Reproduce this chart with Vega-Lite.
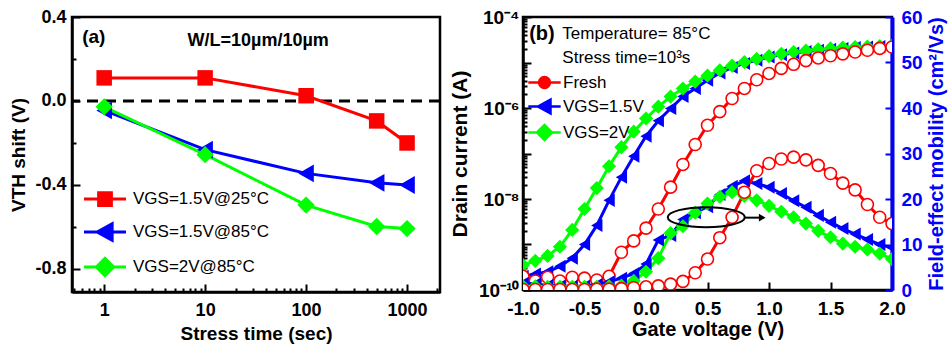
{
  "$schema": "https://vega.github.io/schema/vega-lite/v6.json",
  "background": "white",
  "padding": {"left": 8, "top": 6, "right": 0, "bottom": 0},
  "spacing": 5,
  "config": {
    "font": "Liberation Sans",
    "view": {"stroke": "black", "strokeWidth": 2.5},
    "axis": {"labelFont": "Liberation Sans", "labelFontWeight": "bold", "labelColor": "black", "titleFont": "Liberation Sans", "titleFontWeight": "bold", "titleColor": "black", "domainColor": "black", "domainWidth": 2.5, "tickColor": "black", "tickWidth": 2, "grid": false, "labelOverlap": false, "labelFlush": false},
    "legend": {"labelFont": "Liberation Sans", "labelColor": "black", "labelFontWeight": "normal", "padding": 0, "labelLimit": 300}
  },
  "datasets": {
    "a": [
      {"t": 1, "v": 0.11, "s": "VGS=1.5V@25°C"}, {"t": 10, "v": 0.11, "s": "VGS=1.5V@25°C"}, {"t": 100, "v": 0.025, "s": "VGS=1.5V@25°C"}, {"t": 500, "v": -0.095, "s": "VGS=1.5V@25°C"}, {"t": 1000, "v": -0.2, "s": "VGS=1.5V@25°C"},
      {"t": 1, "v": -0.045, "s": "VGS=1.5V@85°C"}, {"t": 10, "v": -0.232, "s": "VGS=1.5V@85°C"}, {"t": 100, "v": -0.345, "s": "VGS=1.5V@85°C"}, {"t": 500, "v": -0.39, "s": "VGS=1.5V@85°C"}, {"t": 1000, "v": -0.4, "s": "VGS=1.5V@85°C"},
      {"t": 1, "v": -0.028, "s": "VGS=2V@85°C"}, {"t": 10, "v": -0.256, "s": "VGS=2V@85°C"}, {"t": 100, "v": -0.496, "s": "VGS=2V@85°C"}, {"t": 500, "v": -0.598, "s": "VGS=2V@85°C"}, {"t": 1000, "v": -0.608, "s": "VGS=2V@85°C"}
    ],
    "b": [
      {"V": -1, "I": 2.00e-10, "mu": 1.5, "s": "VGS=1.5V"}, {"V": -0.9, "I": 2.24e-10, "mu": 1.3, "s": "VGS=1.5V"}, {"V": -0.8, "I": 2.51e-10, "mu": 1.0, "s": "VGS=1.5V"}, {"V": -0.7, "I": 3.31e-10, "mu": 0.9, "s": "VGS=1.5V"}, {"V": -0.6, "I": 5.01e-10, "mu": 0.8, "s": "VGS=1.5V"}, {"V": -0.5, "I": 1.00e-9, "mu": 0.9, "s": "VGS=1.5V"}, {"V": -0.4, "I": 2.63e-9, "mu": 1.2, "s": "VGS=1.5V"}, {"V": -0.3, "I": 9.33e-9, "mu": 1.8, "s": "VGS=1.5V"}, {"V": -0.2, "I": 3.02e-8, "mu": 2.6, "s": "VGS=1.5V"}, {"V": -0.1, "I": 8.71e-8, "mu": 3.6, "s": "VGS=1.5V"}, {"V": 0, "I": 2.40e-7, "mu": 5.7, "s": "VGS=1.5V"}, {"V": 0.1, "I": 5.25e-7, "mu": 11.0, "s": "VGS=1.5V"}, {"V": 0.2, "I": 9.77e-7, "mu": 12.0, "s": "VGS=1.5V"}, {"V": 0.3, "I": 1.78e-6, "mu": 15.5, "s": "VGS=1.5V"}, {"V": 0.4, "I": 2.69e-6, "mu": 17.0, "s": "VGS=1.5V"}, {"V": 0.5, "I": 4.07e-6, "mu": 18.3, "s": "VGS=1.5V"}, {"V": 0.6, "I": 5.89e-6, "mu": 21.0, "s": "VGS=1.5V"}, {"V": 0.7, "I": 7.76e-6, "mu": 22.8, "s": "VGS=1.5V"}, {"V": 0.8, "I": 9.55e-6, "mu": 24.0, "s": "VGS=1.5V"}, {"V": 0.9, "I": 1.12e-5, "mu": 23.4, "s": "VGS=1.5V"}, {"V": 1.0, "I": 1.32e-5, "mu": 22.6, "s": "VGS=1.5V"}, {"V": 1.1, "I": 1.48e-5, "mu": 21.2, "s": "VGS=1.5V"}, {"V": 1.2, "I": 1.62e-5, "mu": 19.6, "s": "VGS=1.5V"}, {"V": 1.3, "I": 1.74e-5, "mu": 18.2, "s": "VGS=1.5V"}, {"V": 1.4, "I": 1.86e-5, "mu": 16.4, "s": "VGS=1.5V"}, {"V": 1.5, "I": 1.95e-5, "mu": 14.9, "s": "VGS=1.5V"}, {"V": 1.6, "I": 2.04e-5, "mu": 13.5, "s": "VGS=1.5V"}, {"V": 1.7, "I": 2.14e-5, "mu": 12.3, "s": "VGS=1.5V"}, {"V": 1.8, "I": 2.19e-5, "mu": 11.1, "s": "VGS=1.5V"}, {"V": 1.9, "I": 2.24e-5, "mu": 10.0, "s": "VGS=1.5V"}, {"V": 2.0, "I": 2.29e-5, "mu": 9.3, "s": "VGS=1.5V"},
      {"V": -1, "I": 3.55e-10, "mu": 0.8, "s": "VGS=2V"}, {"V": -0.9, "I": 4.37e-10, "mu": 0.8, "s": "VGS=2V"}, {"V": -0.8, "I": 5.62e-10, "mu": 0.7, "s": "VGS=2V"}, {"V": -0.7, "I": 8.91e-10, "mu": 0.7, "s": "VGS=2V"}, {"V": -0.6, "I": 2.09e-9, "mu": 0.7, "s": "VGS=2V"}, {"V": -0.5, "I": 6.03e-9, "mu": 0.7, "s": "VGS=2V"}, {"V": -0.4, "I": 1.74e-8, "mu": 0.7, "s": "VGS=2V"}, {"V": -0.3, "I": 5.25e-8, "mu": 0.8, "s": "VGS=2V"}, {"V": -0.2, "I": 1.38e-7, "mu": 1.0, "s": "VGS=2V"}, {"V": -0.1, "I": 3.02e-7, "mu": 2.0, "s": "VGS=2V"}, {"V": 0, "I": 5.89e-7, "mu": 4.0, "s": "VGS=2V"}, {"V": 0.1, "I": 1.07e-6, "mu": 7.0, "s": "VGS=2V"}, {"V": 0.2, "I": 1.78e-6, "mu": 12.5, "s": "VGS=2V"}, {"V": 0.3, "I": 2.69e-6, "mu": 14.0, "s": "VGS=2V"}, {"V": 0.4, "I": 3.80e-6, "mu": 17.0, "s": "VGS=2V"}, {"V": 0.5, "I": 5.13e-6, "mu": 19.0, "s": "VGS=2V"}, {"V": 0.6, "I": 6.76e-6, "mu": 20.5, "s": "VGS=2V"}, {"V": 0.7, "I": 8.51e-6, "mu": 21.5, "s": "VGS=2V"}, {"V": 0.8, "I": 1.02e-5, "mu": 20.7, "s": "VGS=2V"}, {"V": 0.9, "I": 1.20e-5, "mu": 19.7, "s": "VGS=2V"}, {"V": 1.0, "I": 1.38e-5, "mu": 18.5, "s": "VGS=2V"}, {"V": 1.1, "I": 1.55e-5, "mu": 17.2, "s": "VGS=2V"}, {"V": 1.2, "I": 1.70e-5, "mu": 16.0, "s": "VGS=2V"}, {"V": 1.3, "I": 1.82e-5, "mu": 14.6, "s": "VGS=2V"}, {"V": 1.4, "I": 1.95e-5, "mu": 13.0, "s": "VGS=2V"}, {"V": 1.5, "I": 2.04e-5, "mu": 11.6, "s": "VGS=2V"}, {"V": 1.6, "I": 2.14e-5, "mu": 10.2, "s": "VGS=2V"}, {"V": 1.7, "I": 2.19e-5, "mu": 9.5, "s": "VGS=2V"}, {"V": 1.8, "I": 2.24e-5, "mu": 8.9, "s": "VGS=2V"}, {"V": 1.9, "I": 2.29e-5, "mu": 8.0, "s": "VGS=2V"}, {"V": 2.0, "I": 2.34e-5, "mu": 6.8, "s": "VGS=2V"},
      {"V": -1, "I": 2.00e-10, "mu": 0.1, "s": "Fresh"}, {"V": -0.9, "I": 1.58e-10, "mu": 0.1, "s": "Fresh"}, {"V": -0.8, "I": 1.91e-10, "mu": 0.1, "s": "Fresh"}, {"V": -0.7, "I": 1.58e-10, "mu": 0.1, "s": "Fresh"}, {"V": -0.6, "I": 1.91e-10, "mu": 0.1, "s": "Fresh"}, {"V": -0.5, "I": 1.82e-10, "mu": 0.1, "s": "Fresh"}, {"V": -0.4, "I": 1.66e-10, "mu": 0.2, "s": "Fresh"}, {"V": -0.3, "I": 2.00e-10, "mu": 0.2, "s": "Fresh"}, {"V": -0.2, "I": 6.76e-10, "mu": 0.3, "s": "Fresh"}, {"V": -0.1, "I": 1.20e-9, "mu": 0.5, "s": "Fresh"}, {"V": 0, "I": 2.29e-9, "mu": 0.7, "s": "Fresh"}, {"V": 0.1, "I": 6.03e-9, "mu": 0.9, "s": "Fresh"}, {"V": 0.2, "I": 1.82e-8, "mu": 1.3, "s": "Fresh"}, {"V": 0.3, "I": 5.75e-8, "mu": 1.9, "s": "Fresh"}, {"V": 0.4, "I": 1.58e-7, "mu": 3.8, "s": "Fresh"}, {"V": 0.5, "I": 4.17e-7, "mu": 6.8, "s": "Fresh"}, {"V": 0.6, "I": 8.32e-7, "mu": 11.5, "s": "Fresh"}, {"V": 0.7, "I": 1.62e-6, "mu": 16.0, "s": "Fresh"}, {"V": 0.8, "I": 2.69e-6, "mu": 21.5, "s": "Fresh"}, {"V": 0.9, "I": 4.17e-6, "mu": 26.2, "s": "Fresh"}, {"V": 1.0, "I": 5.75e-6, "mu": 27.8, "s": "Fresh"}, {"V": 1.1, "I": 7.41e-6, "mu": 28.8, "s": "Fresh"}, {"V": 1.2, "I": 9.12e-6, "mu": 29.2, "s": "Fresh"}, {"V": 1.3, "I": 1.10e-5, "mu": 28.6, "s": "Fresh"}, {"V": 1.4, "I": 1.26e-5, "mu": 27.4, "s": "Fresh"}, {"V": 1.5, "I": 1.41e-5, "mu": 25.6, "s": "Fresh"}, {"V": 1.6, "I": 1.55e-5, "mu": 23.5, "s": "Fresh"}, {"V": 1.7, "I": 1.70e-5, "mu": 22.0, "s": "Fresh"}, {"V": 1.8, "I": 1.86e-5, "mu": 18.8, "s": "Fresh"}, {"V": 1.9, "I": 2.04e-5, "mu": 16.0, "s": "Fresh"}, {"V": 2.0, "I": 2.19e-5, "mu": 14.6, "s": "Fresh"}
    ]
  },
  "resolve": {"scale": {"color": "independent"}, "legend": {"color": "independent"}},
  "hconcat": [
    {
      "width": 368,
      "height": 275,
      "layer": [
        {
          "data": {"values": [{}]},
          "mark": {"type": "rule", "strokeDash": [11, 7], "strokeWidth": 3, "color": "black"},
          "encoding": {"y": {"datum": 0, "type": "quantitative"}}
        },
        {
          "data": {"name": "a"},
          "mark": {"type": "line", "strokeWidth": 3},
          "encoding": {
            "x": {"field": "t", "type": "quantitative", "scale": {"type": "log", "domain": [0.48, 2120], "nice": false},
              "axis": {"title": "Stress time (sec)", "titleFontSize": 19, "titlePadding": 1, "labelFontSize": 18, "labelPadding": 17,
                "values": [0.5, 0.6, 0.7, 0.8, 0.9, 1, 2, 3, 4, 5, 6, 7, 8, 9, 10, 20, 30, 40, 50, 60, 70, 80, 90, 100, 200, 300, 400, 500, 600, 700, 800, 900, 1000, 2000],
                "labelExpr": "indexof([1, 10, 100, 1000], datum.value) >= 0 ? format(datum.value, 'd') : ''",
                "tickSize": {"condition": {"test": "indexof([1, 10, 100, 1000], datum.value) >= 0", "value": -8}, "value": -4}}},
            "y": {"field": "v", "type": "quantitative", "scale": {"domain": [-0.91, 0.4], "nice": false, "zero": false},
              "axis": {"title": "VTH shift (V)", "titleFontSize": 19, "titlePadding": 6, "labelFontSize": 18, "labelPadding": 14,
                "values": [-0.8, -0.6, -0.4, -0.2, 0, 0.2, 0.4],
                "labelExpr": "indexof([-0.8, -0.4, 0, 0.4], datum.value) >= 0 ? replace(format(datum.value, '.1f'), '−', '-') : ''",
                "tickSize": {"condition": {"test": "indexof([-0.8, -0.4, 0, 0.4], datum.value) >= 0", "value": -8}, "value": -4}}},
            "color": {"field": "s", "type": "nominal",
              "scale": {"domain": ["VGS=1.5V@25°C", "VGS=1.5V@85°C", "VGS=2V@85°C"], "range": ["#ff0000", "#0000ff", "#00ff00"]},
              "legend": {"title": null, "orient": "none", "legendX": 10, "legendY": 173, "symbolSize": 225, "symbolStrokeWidth": 3, "symbolOffset": 14, "labelOffset": 19, "rowPadding": 5, "labelFontSize": 17,
                "encode": {"symbols": {"update": {
                  "shape": [{"test": "datum.value == 'VGS=1.5V@25°C'", "value": "M-2.8,0H2.8M-0.85,-0.85H0.85V0.85H-0.85Z"}, {"test": "datum.value == 'VGS=1.5V@85°C'", "value": "M-2.8,0H2.8M-1.05,0L0.95,-1.1L0.95,1.1Z"}, {"value": "M-2.8,0H2.8M-1.15,0L0,-1.15L1.15,0L0,1.15Z"}],
                  "fill": [{"test": "datum.value == 'VGS=1.5V@25°C'", "value": "#ff0000"}, {"test": "datum.value == 'VGS=1.5V@85°C'", "value": "#0000ff"}, {"value": "#00ff00"}],
                  "stroke": [{"test": "datum.value == 'VGS=1.5V@25°C'", "value": "#ff0000"}, {"test": "datum.value == 'VGS=1.5V@85°C'", "value": "#0000ff"}, {"value": "#00ff00"}],
                  "strokeWidth": {"value": 3},
                  "opacity": {"value": 1}
                }}}}}
          }
        },
        {
          "data": {"name": "a"},
          "transform": [{"filter": "datum.s == 'VGS=1.5V@25°C'"}],
          "mark": {"type": "point", "shape": "square", "filled": true, "opacity": 1, "size": 240},
          "encoding": {"x": {"field": "t", "type": "quantitative"}, "y": {"field": "v", "type": "quantitative"}, "color": {"field": "s", "type": "nominal", "legend": null}}
        },
        {
          "data": {"name": "a"},
          "transform": [{"filter": "datum.s == 'VGS=1.5V@85°C'"}],
          "mark": {"type": "point", "shape": "triangle-left", "filled": true, "opacity": 1, "size": 320},
          "encoding": {"x": {"field": "t", "type": "quantitative"}, "y": {"field": "v", "type": "quantitative"}, "color": {"field": "s", "type": "nominal", "legend": null}}
        },
        {
          "data": {"name": "a"},
          "transform": [{"filter": "datum.s == 'VGS=2V@85°C'"}],
          "mark": {"type": "point", "shape": "diamond", "filled": true, "opacity": 1, "size": 300},
          "encoding": {"x": {"field": "t", "type": "quantitative"}, "y": {"field": "v", "type": "quantitative"}, "color": {"field": "s", "type": "nominal", "legend": null}}
        },
        {
          "data": {"values": [{"t": 0.605, "v": 0.307, "label": "(a)"}]},
          "mark": {"type": "text", "align": "left", "baseline": "middle", "fontSize": 19, "fontWeight": "bold", "font": "Liberation Sans", "color": "black"},
          "encoding": {"x": {"field": "t", "type": "quantitative"}, "y": {"field": "v", "type": "quantitative"}, "text": {"field": "label"}}
        },
        {
          "data": {"values": [{"t": 33.5, "v": 0.286, "label": "W/L=10µm/10µm"}]},
          "mark": {"type": "text", "align": "center", "baseline": "middle", "fontSize": 18, "fontWeight": "bold", "font": "Liberation Sans", "color": "black"},
          "encoding": {"x": {"field": "t", "type": "quantitative"}, "y": {"field": "v", "type": "quantitative"}, "text": {"field": "label"}}
        }
      ]
    },
    {
      "width": 369,
      "height": 273,
      "data": {"name": "b"},
      "resolve": {"scale": {"y": "independent"}},
      "layer": [
        {
          "layer": [
            {
              "mark": {"type": "line", "strokeWidth": 3, "clip": true},
              "encoding": {
                "x": {"field": "V", "type": "quantitative", "scale": {"domain": [-1, 2], "nice": false, "zero": false},
                  "axis": {"title": "Gate voltage (V)", "titleFontSize": 20, "titlePadding": 1, "labelFontSize": 19, "labelPadding": 17,
                    "values": [-1, -0.75, -0.5, -0.25, 0, 0.25, 0.5, 0.75, 1, 1.25, 1.5, 1.75, 2],
                    "labelExpr": "indexof([-1, -0.5, 0, 0.5, 1, 1.5, 2], datum.value) >= 0 ? replace(format(datum.value, '.1f'), '−', '-') : ''",
                    "tickSize": {"condition": {"test": "indexof([-1, -0.5, 0, 0.5, 1, 1.5, 2], datum.value) >= 0", "value": -8}, "value": -4}}},
                "y": {"field": "I", "type": "quantitative", "scale": {"type": "log", "domain": [1e-10, 1e-4], "nice": false},
                  "axis": {"orient": "left", "title": "Drain current (A)", "titleFontSize": 21, "titlePadding": 8, "labelFontSize": 19, "labelPadding": 12,
                    "values": [1e-10, 2e-10, 3e-10, 4e-10, 5e-10, 6e-10, 7e-10, 8e-10, 9e-10, 1e-9, 2e-9, 3e-9, 4e-9, 5e-9, 6e-9, 7e-9, 8e-9, 9e-9, 1e-8, 2e-8, 3e-8, 4e-8, 5e-8, 6e-8, 7e-8, 8e-8, 9e-8, 1e-7, 2e-7, 3e-7, 4e-7, 5e-7, 6e-7, 7e-7, 8e-7, 9e-7, 1e-6, 2e-6, 3e-6, 4e-6, 5e-6, 6e-6, 7e-6, 8e-6, 9e-6, 1e-5, 2e-5, 3e-5, 4e-5, 5e-5, 6e-5, 7e-5, 8e-5, 9e-5, 1e-4],
                    "labelExpr": "abs(log(datum.value) / LN10 - round(log(datum.value) / LN10)) < 0.01 && round(-log(datum.value) / LN10) % 2 == 0 ? '10⁻' + (round(-log(datum.value) / LN10) == 10 ? '¹⁰' : round(-log(datum.value) / LN10) == 8 ? '⁸' : round(-log(datum.value) / LN10) == 6 ? '⁶' : '⁴') : ''",
                    "tickSize": {"condition": {"test": "abs(log(datum.value) / LN10 - round(log(datum.value) / LN10)) < 0.01", "value": -8}, "value": -4}}},
                "color": {"field": "s", "type": "nominal",
                  "scale": {"domain": ["Fresh", "VGS=1.5V", "VGS=2V"], "range": ["#ff0000", "#0000ff", "#00ff00"]},
                  "legend": {"title": null, "orient": "none", "legendX": -1, "legendY": 57, "symbolSize": 144, "symbolStrokeWidth": 2.5, "symbolOffset": 14, "labelOffset": 10, "rowPadding": 1, "labelFontSize": 17,
                    "encode": {"symbols": {"update": {
                      "shape": [{"test": "datum.value == 'Fresh'", "value": "M-2.7,0H-0.9M0.9,0H2.7M0.9,0A0.9,0.9 0 1,1 -0.9,0A0.9,0.9 0 1,1 0.9,0"}, {"test": "datum.value == 'VGS=1.5V'", "value": "M-2.7,0H2.7M-1.1,0L1,-1.15L1,1.15Z"}, {"value": "M-2.7,0H2.7M-1.25,0L0,-1.25L1.25,0L0,1.25Z"}],
                      "fill": [{"test": "datum.value == 'Fresh'", "value": "#ffffff"}, {"test": "datum.value == 'VGS=1.5V'", "value": "#0000ff"}, {"value": "#00ff00"}],
                      "stroke": [{"test": "datum.value == 'Fresh'", "value": "#ff0000"}, {"test": "datum.value == 'VGS=1.5V'", "value": "#0000ff"}, {"value": "#00ff00"}],
                      "strokeWidth": {"value": 2.5},
                      "opacity": {"value": 1}
                    }}}}}
              }
            },
            {
              "transform": [{"filter": "datum.s == 'VGS=1.5V'"}],
              "mark": {"type": "point", "shape": "triangle-left", "filled": true, "opacity": 1, "size": 170, "clip": true},
              "encoding": {"x": {"field": "V", "type": "quantitative"}, "y": {"field": "I", "type": "quantitative"}, "color": {"field": "s", "type": "nominal", "legend": null}}
            },
            {
              "transform": [{"filter": "datum.s == 'VGS=2V'"}],
              "mark": {"type": "point", "shape": "diamond", "filled": true, "opacity": 1, "size": 200, "clip": true},
              "encoding": {"x": {"field": "V", "type": "quantitative"}, "y": {"field": "I", "type": "quantitative"}, "color": {"field": "s", "type": "nominal", "legend": null}}
            },
            {
              "transform": [{"filter": "datum.s == 'Fresh'"}],
              "mark": {"type": "point", "shape": "circle", "filled": true, "fill": "#ffffff", "stroke": "#ff0000", "strokeWidth": 1.6, "opacity": 1, "size": 144, "clip": true},
              "encoding": {"x": {"field": "V", "type": "quantitative"}, "y": {"field": "I", "type": "quantitative"}}
            }
          ]
        },
        {
          "layer": [
            {
              "mark": {"type": "line", "strokeWidth": 3, "clip": true},
              "encoding": {
                "x": {"field": "V", "type": "quantitative"},
                "y": {"field": "mu", "type": "quantitative", "scale": {"domain": [0, 60], "nice": false},
                  "axis": {"orient": "right", "title": "Field-effect mobility (cm²/Vs)", "titleAngle": 270, "titleBaseline": "top", "titleColor": "#0000ff", "titleFontSize": 20, "titlePadding": 4,
                    "labelColor": "#0000ff", "labelFontSize": 19, "labelPadding": 16, "domainColor": "#0000ff", "domainWidth": 4, "tickColor": "#0000ff",
                    "values": [0, 5, 10, 15, 20, 25, 30, 35, 40, 45, 50, 55, 60],
                    "labelExpr": "datum.value % 10 == 0 ? format(datum.value, 'd') : ''",
                    "tickSize": {"condition": {"test": "datum.value % 10 == 0", "value": -7}, "value": -4}}},
                "color": {"field": "s", "type": "nominal", "legend": null}
              }
            },
            {
              "transform": [{"filter": "datum.s == 'VGS=1.5V'"}],
              "mark": {"type": "point", "shape": "triangle-left", "filled": true, "opacity": 1, "size": 170, "clip": true},
              "encoding": {"x": {"field": "V", "type": "quantitative"}, "y": {"field": "mu", "type": "quantitative"}, "color": {"field": "s", "type": "nominal", "legend": null}}
            },
            {
              "transform": [{"filter": "datum.s == 'VGS=2V'"}],
              "mark": {"type": "point", "shape": "diamond", "filled": true, "opacity": 1, "size": 200, "clip": true},
              "encoding": {"x": {"field": "V", "type": "quantitative"}, "y": {"field": "mu", "type": "quantitative"}, "color": {"field": "s", "type": "nominal", "legend": null}}
            },
            {
              "transform": [{"filter": "datum.s == 'Fresh'"}],
              "mark": {"type": "point", "shape": "circle", "filled": true, "fill": "#ffffff", "stroke": "#ff0000", "strokeWidth": 1.6, "opacity": 1, "size": 144, "clip": true},
              "encoding": {"x": {"field": "V", "type": "quantitative"}, "y": {"field": "mu", "type": "quantitative"}}
            },
            {
              "data": {"values": [{"V": 0.49, "mu": 16.0}]},
              "mark": {"type": "point", "shape": "M-1,0A1,0.26 0 1,0 1,0A1,0.26 0 1,0 -1,0", "size": 5929, "filled": false, "stroke": "black", "strokeWidth": 2, "opacity": 1},
              "encoding": {"x": {"field": "V", "type": "quantitative"}, "y": {"field": "mu", "type": "quantitative"}}
            },
            {
              "data": {"values": [{"V": 0.8, "V2": 0.94, "mu": 15.9}]},
              "mark": {"type": "rule", "strokeWidth": 2, "color": "black"},
              "encoding": {"x": {"field": "V", "type": "quantitative"}, "x2": {"field": "V2"}, "y": {"field": "mu", "type": "quantitative"}}
            },
            {
              "data": {"values": [{"V": 0.945, "mu": 15.9}]},
              "mark": {"type": "point", "shape": "triangle-right", "size": 60, "filled": true, "color": "black", "opacity": 1},
              "encoding": {"x": {"field": "V", "type": "quantitative"}, "y": {"field": "mu", "type": "quantitative"}}
            },
            {
              "data": {"values": [{"V": -0.95, "mu": 56.3, "label": "(b)"}]},
              "mark": {"type": "text", "align": "left", "baseline": "middle", "fontSize": 20, "fontWeight": "bold", "font": "Liberation Sans", "color": "black"},
              "encoding": {"x": {"field": "V", "type": "quantitative"}, "y": {"field": "mu", "type": "quantitative"}, "text": {"field": "label"}}
            },
            {
              "data": {"values": [{"V": -0.68, "mu": 56.3, "label": "Temperature= 85°C"}, {"V": -0.68, "mu": 51.0, "label": "Stress time=10³s"}]},
              "mark": {"type": "text", "align": "left", "baseline": "middle", "fontSize": 17, "font": "Liberation Sans", "color": "black"},
              "encoding": {"x": {"field": "V", "type": "quantitative"}, "y": {"field": "mu", "type": "quantitative"}, "text": {"field": "label"}}
            }
          ]
        }
      ]
    }
  ]
}
